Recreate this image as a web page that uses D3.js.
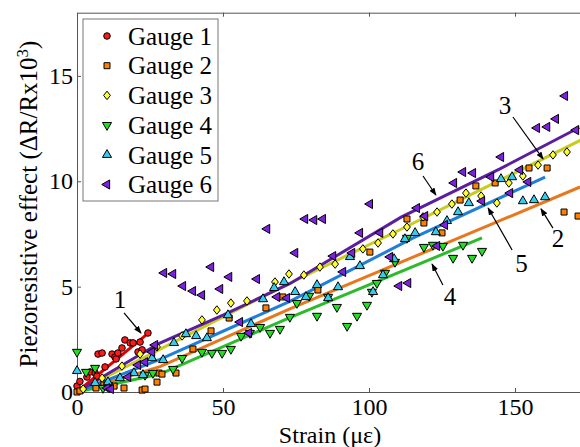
<!DOCTYPE html>
<html>
<head>
<meta charset="utf-8">
<script src="https://cdn.jsdelivr.net/npm/d3@7"></script>
</head>
<body style="margin:0;background:#fff;">
<svg width="580" height="447" style="display:block;"></svg>
<script>
//刻度
const xTicks = [0, 50, 100, 150];
const yTicks = [0, 5, 10, 15];
const gaugeNames = ['Gauge 1', 'Gauge 2', 'Gauge 3', 'Gauge 4', 'Gauge 5', 'Gauge 6'];

//测点 [strain, effect]
const gauge1 = [[0,0.28],[1.0,0.5],[3.4,0.71],[4.5,0.95],[6.2,0.9],[6.8,0.75],[7.2,1.8],[8.6,1.85],[9.6,1.19],
    [12.0,1.8],[13.0,1.66],[13.4,1.57],[14.0,1.85],[15.4,2.09],[16.4,2.47],[18.2,2.33],[19.2,2.33],
    [20.9,1.9],[21.6,2.37],[22.3,2.0],[24.3,2.8]];
const gauge2 = [[0,0],[1.0,0.05],[6.5,0.19],[9.2,0.38],[12.7,0.28],[16.1,0.19],[22.3,0.09],[23.3,0.14],
    [27.4,0.47],[28.1,0.9],[29.1,0.85],[33.9,0.9],[39.7,2.04],[45.9,2.9],[52.1,3.51],[64.7,3.99],
    [70.5,4.51],[82.5,4.84],[100.3,6.64],[113.0,8.21],[118.8,8.02],[125.0,7.55],[131.2,9.11],
    [136.6,9.78],[143.2,9.92],[154.8,10.63],[161.0,10.63],[166.8,8.54],[171.6,8.35]];
const gauge3 = [[2.1,0.14],[8.6,0.66],[15.4,1.23],[21.6,1.8],[27.4,2.14],[36.0,2.66],[42.8,3.42],
    [47.9,3.89],[52.7,4.22],[58.2,4.32],[67.8,5.22],[72.6,5.6],[77.7,5.55],[83.2,5.93],[88.4,6.07],
    [97.9,6.79],[103.1,7.07],[108.2,7.5],[113.0,7.83],[118.5,8.31],[123.3,8.54],[128.4,8.92],
    [133.2,9.44],[138.4,9.3],[143.8,8.97],[147.9,9.92],[152.7,10.25],[157.9,10.77],[163.0,11.25],[167.8,11.39]];
const gauge4 = [[0,1.9],[3.1,0.95],[6.2,1.14],[8.9,0.19],[10.6,0.33],[23.3,0.81],[26.0,0.9],[32.9,1.09],
    [36.0,1.61],[42.8,1.9],[46.2,1.85],[49.7,1.85],[52.7,2.04],[56.2,2.66],[59.2,2.8],[62.7,3.08],
    [66.1,2.8],[69.5,2.99],[72.9,3.56],[75.3,4.22],[79.5,4.56],[82.2,3.61],[86.0,4.51],[89.0,4.03],
    [92.5,3.13],[95.9,3.61],[99.3,4.13],[101.0,4.75],[102.7,5.17],[105.5,5.65],[108.9,6.17],
    [113.0,7.31],[118.8,6.88],[121.9,6.98],[125.3,6.93],[128.8,6.36],[132.2,6.98],[135.3,6.36],[138.7,6.69]];
const gauge5 = [[0,1.0],[6.2,0.43],[10.6,0.47],[14.7,0.66],[19.5,0.9],[22.6,0.81],[25.7,1.61],[29.5,1.52],
    [33.2,2.33],[37.3,2.75],[40.8,2.66],[44.5,2.56],[51.7,3.65],[59.6,3.23],[63.7,4.41],[67.5,4.94],
    [70.9,5.22],[74.7,4.75],[78.4,4.51],[82.2,5.08],[86.0,4.46],[89.4,4.98],[93.5,6.41],[96.9,5.98],
    [101.4,4.75],[104.8,5.55],[108.6,6.31],[112.3,7.26],[115.8,7.55],[122.9,7.59],[126.7,8.12],
    [130.5,8.54],[134.2,8.97],[145.2,10.11],[149.0,10.2],[152.7,9.06],[156.5,9.11],[160.3,9.25]];
const gauge6 = [[10.3,0.19],[11.6,0.14],[17.5,0.71],[20.9,1.28],[23.3,1.42],[25.7,1.9],[26.7,2.23],
    [29.8,5.65],[32.9,5.6],[36.3,5.03],[39.7,4.79],[42.8,4.6],[45.9,5.93],[49.0,4.89],[52.1,5.46],
    [55.8,3.32],[58.9,2.8],[61.6,5.36],[65.1,7.74],[68.5,4.51],[71.9,4.46],[74.7,6.6],[78.1,8.21],
    [81.2,8.16],[84.2,8.21],[87.7,6.45],[91.1,5.7],[94.2,6.6],[96.9,7.55],[100.3,8.92],[103.8,7.55],
    [107.2,6.41],[110.3,5.03],[113.4,5.17],[116.4,8.73],[119.2,8.35],[123.3,6.93],[126.0,7.93],
    [129.1,9.92],[132.2,10.44],[135.6,10.39],[138.7,9.06],[141.8,10.2],[145.2,11.15],[148.3,9.44],
    [151.7,10.54],[154.5,9.97],[157.5,12.53],[161.0,12.58],[164.0,12.96],[167.1,14.05],[170.9,12.43]];

//拟合线
const fit1 = [[0,0],[23.6,2.7]];
const fit2 = [[0,0],[28.4,1.2],[72.9,3.95],[141.4,7.93],[172.3,9.73]];
const fit3 = [[0,0],[28,2.0],[66,4.7],[110.6,7.7],[172.5,11.95]];
const fit4 = [[0,0],[28.4,0.85],[72.9,3.53],[138.7,7.31]];
const fit5 = [[0,0],[28.4,1.55],[72.9,4.3],[115,7.3],[160.3,10.2]];
const fit6 = [[0,0],[28,2.3],[50,3.65],[73,5.15],[111,8.3],[145,10.6],[172,12.55]];

//标注: 文字位置, 箭头起点, 箭头终点
const notes = [
    {text:'1', at:[14.7,3.99], from:[16.1,3.75], to:[21.9,2.8]},
    {text:'6', at:[116.8,10.54], from:[118.5,10.25], to:[122.9,9.35]},
    {text:'3', at:[146.6,13.19], from:[149.3,13.05], to:[159.6,11.06]},
    {text:'5', at:[152.2,5.7], from:[149,6.74], to:[140.8,8.73]},
    {text:'2', at:[164.7,6.88], from:[163,7.78], to:[158.9,8.69]},
    {text:'4', at:[127.7,4.13], from:[125.3,5.08], to:[121.6,6.07]}
];

const gauges = [gauge1, gauge2, gauge3, gauge4, gauge5, gauge6];
const fits = [fit1, fit2, fit3, fit4, fit5, fit6];
const markFill = ['#ff1a1a', '#ff8000', '#ffff33', '#22dd22', '#33ccee', '#7f1fe0'];
const lineColor = ['#e00000', '#e8781e', '#c8cc1e', '#2bbb2b', '#1f7fd8', '#5b1f9e'];
const serif = 'Liberation Serif';
const fontSize = 25;

let svg = d3.select('svg');
let xScale = d3.scaleLinear().domain([0, 180]).range([77, 602.6]);
let yScale = d3.scaleLinear().domain([0, 18]).range([392, 12.7]);

//符号
let circle = d3.symbol().type(d3.symbolCircle).size(34)();
let square = d3.symbol().type(d3.symbolSquare).size(36)();
let tri = d3.symbol().type(d3.symbolTriangle).size(36)();
let shapes = [
    {path: circle, tf: ''},
    {path: square, tf: ''},
    {path: square, tf: ' scale(0.8,1) rotate(45)'},
    {path: tri, tf: ' rotate(180)'},
    {path: tri, tf: ''},
    {path: tri, tf: ' rotate(-90)'}
];

//坐标轴
function styleAxis(g){
    g.attr('font-family', null);
    g.selectAll('path,line').attr('stroke', '#555');
    g.selectAll('text').attr('font-size', 24).attr('fill', '#000');
}
svg.append('g')
    .attr('transform', 'translate(0,392)')
    .call(d3.axisBottom(xScale).tickValues(xTicks).tickSizeInner(-4).tickSizeOuter(0).tickPadding(6))
    .call(styleAxis);
svg.append('g')
    .attr('transform', 'translate(0,12.7)')
    .call(d3.axisTop(xScale).tickValues(xTicks).tickSizeInner(-4).tickSizeOuter(0).tickFormat(''))
    .call(styleAxis);
svg.append('g')
    .attr('transform', 'translate(77,0)')
    .call(d3.axisLeft(yScale).tickValues(yTicks).tickSizeInner(-4).tickSizeOuter(0).tickPadding(4))
    .call(styleAxis);

//拟合线
let line = d3.line().x(d => xScale(d[0])).y(d => yScale(d[1]));
svg.append('g')
    .selectAll('path')
    .data(fits)
    .enter()
    .append('path')
    .attr('d', line)
    .attr('fill', 'none')
    .attr('stroke', (d, i) => lineColor[i])
    .attr('stroke-width', 3);

//散点
gauges.forEach(function(data, i){
    svg.append('g')
        .attr('class', 'gauge-' + (i + 1))
        .selectAll('path')
        .data(data)
        .enter()
        .append('path')
        .attr('d', shapes[i].path)
        .attr('transform', d => `translate(${xScale(d[0])},${yScale(d[1])})${shapes[i].tf}`)
        .attr('fill', markFill[i])
        .attr('stroke', '#000')
        .attr('stroke-width', 1);
});

//箭头
svg.append('defs')
    .append('marker')
    .attr('id', 'arrowHead')
    .attr('markerUnits', 'userSpaceOnUse')
    .attr('markerWidth', 8)
    .attr('markerHeight', 6)
    .attr('refX', 7)
    .attr('refY', 3)
    .attr('orient', 'auto')
    .append('path')
    .attr('d', 'M0,0 L8,3 L0,6 Z')
    .attr('fill', '#000');

let noteG = svg.append('g');
noteG.selectAll('line')
    .data(notes)
    .enter()
    .append('line')
    .attr('x1', d => xScale(d.from[0]))
    .attr('y1', d => yScale(d.from[1]))
    .attr('x2', d => xScale(d.to[0]))
    .attr('y2', d => yScale(d.to[1]))
    .attr('stroke', '#000')
    .attr('stroke-width', 1.2)
    .attr('marker-end', 'url(#arrowHead)');
noteG.selectAll('text')
    .data(notes)
    .enter()
    .append('text')
    .attr('x', d => xScale(d.at[0]))
    .attr('y', d => yScale(d.at[1]))
    .attr('text-anchor', 'middle')
    .attr('font-size', fontSize)
    .text(d => d.text);

//图例
let legend = svg.append('g');
legend.append('rect')
    .attr('x', 83).attr('y', 19)
    .attr('width', 135).attr('height', 182)
    .attr('fill', '#fff')
    .attr('stroke', '#777');
gaugeNames.forEach(function(name, i){
    let cy = 36 + i * 29.7;
    legend.append('path')
        .attr('d', shapes[i].path)
        .attr('transform', `translate(107,${cy})${shapes[i].tf}`)
        .attr('fill', markFill[i])
        .attr('stroke', '#000');
    legend.append('text')
        .attr('x', 128)
        .attr('y', cy)
        .attr('dy', '0.35em')
        .attr('font-size', fontSize)
        .text(name);
});

//轴标题
svg.append('text')
    .attr('x', 330)
    .attr('y', 443)
    .attr('text-anchor', 'middle')
    .attr('font-size', 24)
    .text('Strain (με)');
let yLabel = svg.append('text')
    .attr('transform', 'translate(37,204) rotate(-90)')
    .attr('text-anchor', 'middle')
    .attr('font-size', fontSize);
yLabel.append('tspan').text('Piezoresistive effect (ΔR/Rx10');
yLabel.append('tspan').attr('dy', -9).attr('font-size', 17).text('3');
yLabel.append('tspan').attr('dy', 9).text(')');

//字体
svg.selectAll('text').style('font-family', serif).attr('font-family', serif);
</script>
</body>
</html>
